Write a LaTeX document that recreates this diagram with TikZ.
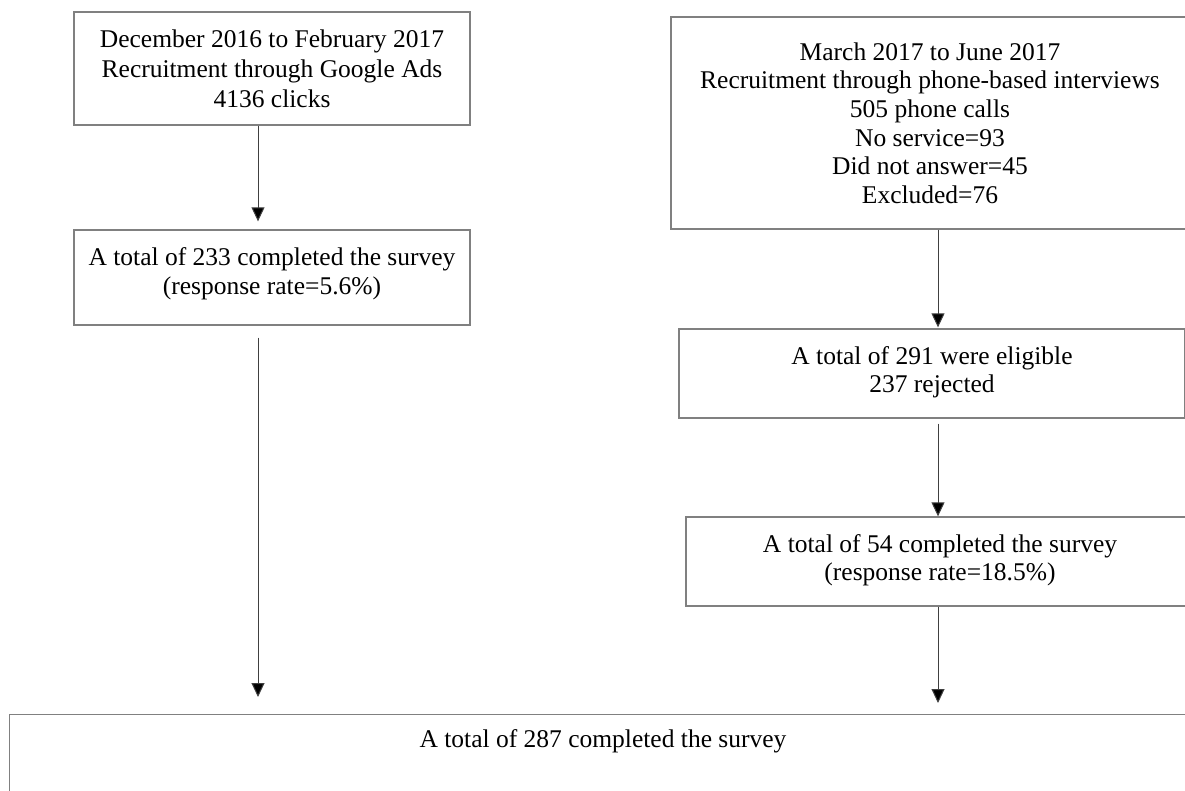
\documentclass[tikz,border=0pt]{standalone}
\usepackage{fontspec}
\setmainfont{Liberation Serif}
\usetikzlibrary{arrows.meta}
\definecolor{boxline}{HTML}{808080}
\definecolor{arrline}{HTML}{404040}
\begin{document}
\begin{tikzpicture}[x=1pt,y=-1pt,
  box/.style={draw=boxline, line width=1.3pt, rectangle, inner sep=0pt, align=center,
    font=\fontsize{25.5}{28.6}\selectfont},
  arr/.style={draw=arrline, line width=1pt, -{Triangle[length=14pt,width=13pt,fill=black]}},
  txt/.style={font=\fontsize{25.5}{28.6}\selectfont, inner sep=0pt}]
\useasboundingbox (0,0) rectangle (1185,791);
\clip (0,0) rectangle (1185,791);
\fill[white] (0,0) rectangle (1185,791);

\node[box, minimum width=396pt, minimum height=113pt, font=\fontsize{25.5}{30}\selectfont] (b1) at (272,68.5)
  {December 2016 to February 2017\\Recruitment through Google Ads\\4136 clicks};
\node[box, minimum width=396pt, minimum height=95pt, text height=39pt] (b2) at (272,277.5)
  {A total of 233 completed the survey\\(response rate=5.6\%)};
\node[box, minimum width=518pt, minimum height=212pt] (b3) at (930,123)
  {March 2017 to June 2017\\Recruitment through phone-based interviews\\505 phone calls\\No service=93\\Did not answer=45\\Excluded=76};
\node[box, minimum width=506pt, minimum height=89pt, text height=44pt] (b4) at (932,373.5)
  {A total of 291 were eligible\\237 rejected};
\node[box, minimum width=508pt, minimum height=89pt, text height=44pt] (b5) at (940,561.5)
  {A total of 54 completed the survey\\(response rate=18.5\%)};
\node[draw=boxline, line width=1.3pt, rectangle, inner sep=0pt, anchor=north west,
  minimum width=1200pt, minimum height=120pt] (b6) at (9,714) {};
\node[txt] (t6) at (603,741) {A total of 287 completed the survey};

\coordinate (lx) at (258,0);
\coordinate (rx) at (938,0);
\draw[arr, shorten >=8pt] (b1.south -| lx) -- (b2.north -| lx);
\draw[arr, shorten <=12pt, shorten >=17pt] (b2.south -| lx) -- (b6.north -| lx);
\draw[arr, shorten >=1pt] (b3.south -| rx) -- (b4.north -| rx);
\draw[arr, shorten <=5pt] (b4.south -| rx) -- (b5.north -| rx);
\draw[arr, shorten >=11pt] (b5.south -| rx) -- (b6.north -| rx);
\end{tikzpicture}
\end{document}
